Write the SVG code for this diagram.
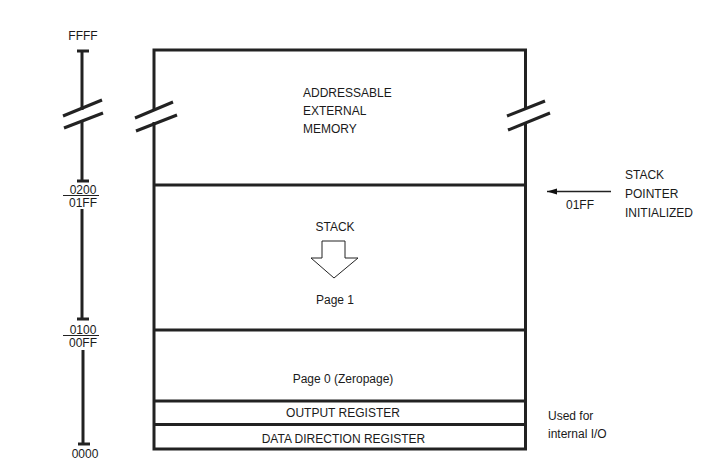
<svg xmlns="http://www.w3.org/2000/svg" width="706" height="474" viewBox="0 0 706 474">
<style>
text{font-family:"Liberation Sans",Arial,sans-serif;font-size:12px;fill:#1a1a1a}
.c{text-anchor:middle}
.k{stroke:#222;stroke-width:3;fill:none}
</style>
<defs>
<marker id="ah" markerWidth="11" markerHeight="8" refX="10" refY="4" orient="auto" markerUnits="userSpaceOnUse">
<path d="M0,1 L10,4 L0,7 Z" fill="#111"/>
</marker>
</defs>
<rect width="706" height="474" fill="#fff"/>
<g id="axis">
<text class="c" x="83" y="40">FFFF</text>
<line class="k" x1="77" y1="51" x2="89" y2="51"/>
<line class="k" x1="82" y1="51" x2="82" y2="110"/>
<line class="k" x1="82" y1="121" x2="82" y2="181"/>
<line class="k" x1="63" y1="116" x2="102" y2="100"/>
<line class="k" x1="64" y1="128" x2="103" y2="113"/>
<line class="k" x1="77" y1="181" x2="89" y2="181"/>
<text class="c" x="83" y="193.5">0200</text>
<line x1="63" y1="195.5" x2="99" y2="195.5" stroke="#222" stroke-width="1.2"/>
<text class="c" x="83" y="207">01FF</text>
<line class="k" x1="82" y1="209" x2="82" y2="318"/>
<line class="k" x1="77" y1="319" x2="89" y2="319"/>
<text class="c" x="83" y="333.5">0100</text>
<line x1="63" y1="335.5" x2="99" y2="335.5" stroke="#222" stroke-width="1.2"/>
<text class="c" x="83" y="347">00FF</text>
<line class="k" x1="83" y1="350" x2="83" y2="444"/>
<line class="k" x1="78" y1="444" x2="90" y2="444"/>
<text class="c" x="85" y="458">0000</text>
</g>
<g id="memory">
<path class="k" d="M154,110 L154,50 L525.5,50 L525.5,108"/>
<path class="k" d="M154,122 L154,449 L525.5,449 L525.5,122"/>
<line class="k" x1="135" y1="118" x2="173" y2="102"/>
<line class="k" x1="136" y1="131" x2="177" y2="115"/>
<line class="k" x1="507" y1="116" x2="545" y2="101"/>
<line class="k" x1="508" y1="130" x2="550" y2="113"/>
<text x="303" y="97">ADDRESSABLE</text>
<text x="303" y="115">EXTERNAL</text>
<text x="303" y="133">MEMORY</text>
</g>
<g id="stack">
<line class="k" x1="154" y1="185" x2="525.5" y2="185"/>
<text class="c" x="335" y="231">STACK</text>
<path d="M322,241 L345,241 L345,258 L358,258 L334,278 L311,258 L322,258 Z" fill="#fff" stroke="#222" stroke-width="1"/>
<text class="c" x="335" y="304">Page 1</text>
</g>
<g id="zeropage">
<line class="k" x1="154" y1="330" x2="525.5" y2="330"/>
<text class="c" x="343" y="383">Page 0 (Zeropage)</text>
</g>
<g id="output">
<line class="k" x1="154" y1="401" x2="525.5" y2="401"/>
<text class="c" x="343" y="417">OUTPUT REGISTER</text>
</g>
<g id="ddr">
<line class="k" x1="154" y1="424.5" x2="525.5" y2="424.5"/>
<text class="c" x="343.5" y="443">DATA DIRECTION REGISTER</text>
</g>
<g id="connectors">
<line x1="611" y1="191.5" x2="547" y2="191.5" stroke="#222" stroke-width="1.5" marker-end="url(#ah)"/>
</g>
<g id="labels">
<text x="566" y="209">01FF</text>
<text x="625" y="179">STACK</text>
<text x="625" y="198">POINTER</text>
<text x="625" y="217">INITIALIZED</text>
<text x="548" y="420">Used for</text>
<text x="548" y="438">internal I/O</text>
</g>
</svg>
